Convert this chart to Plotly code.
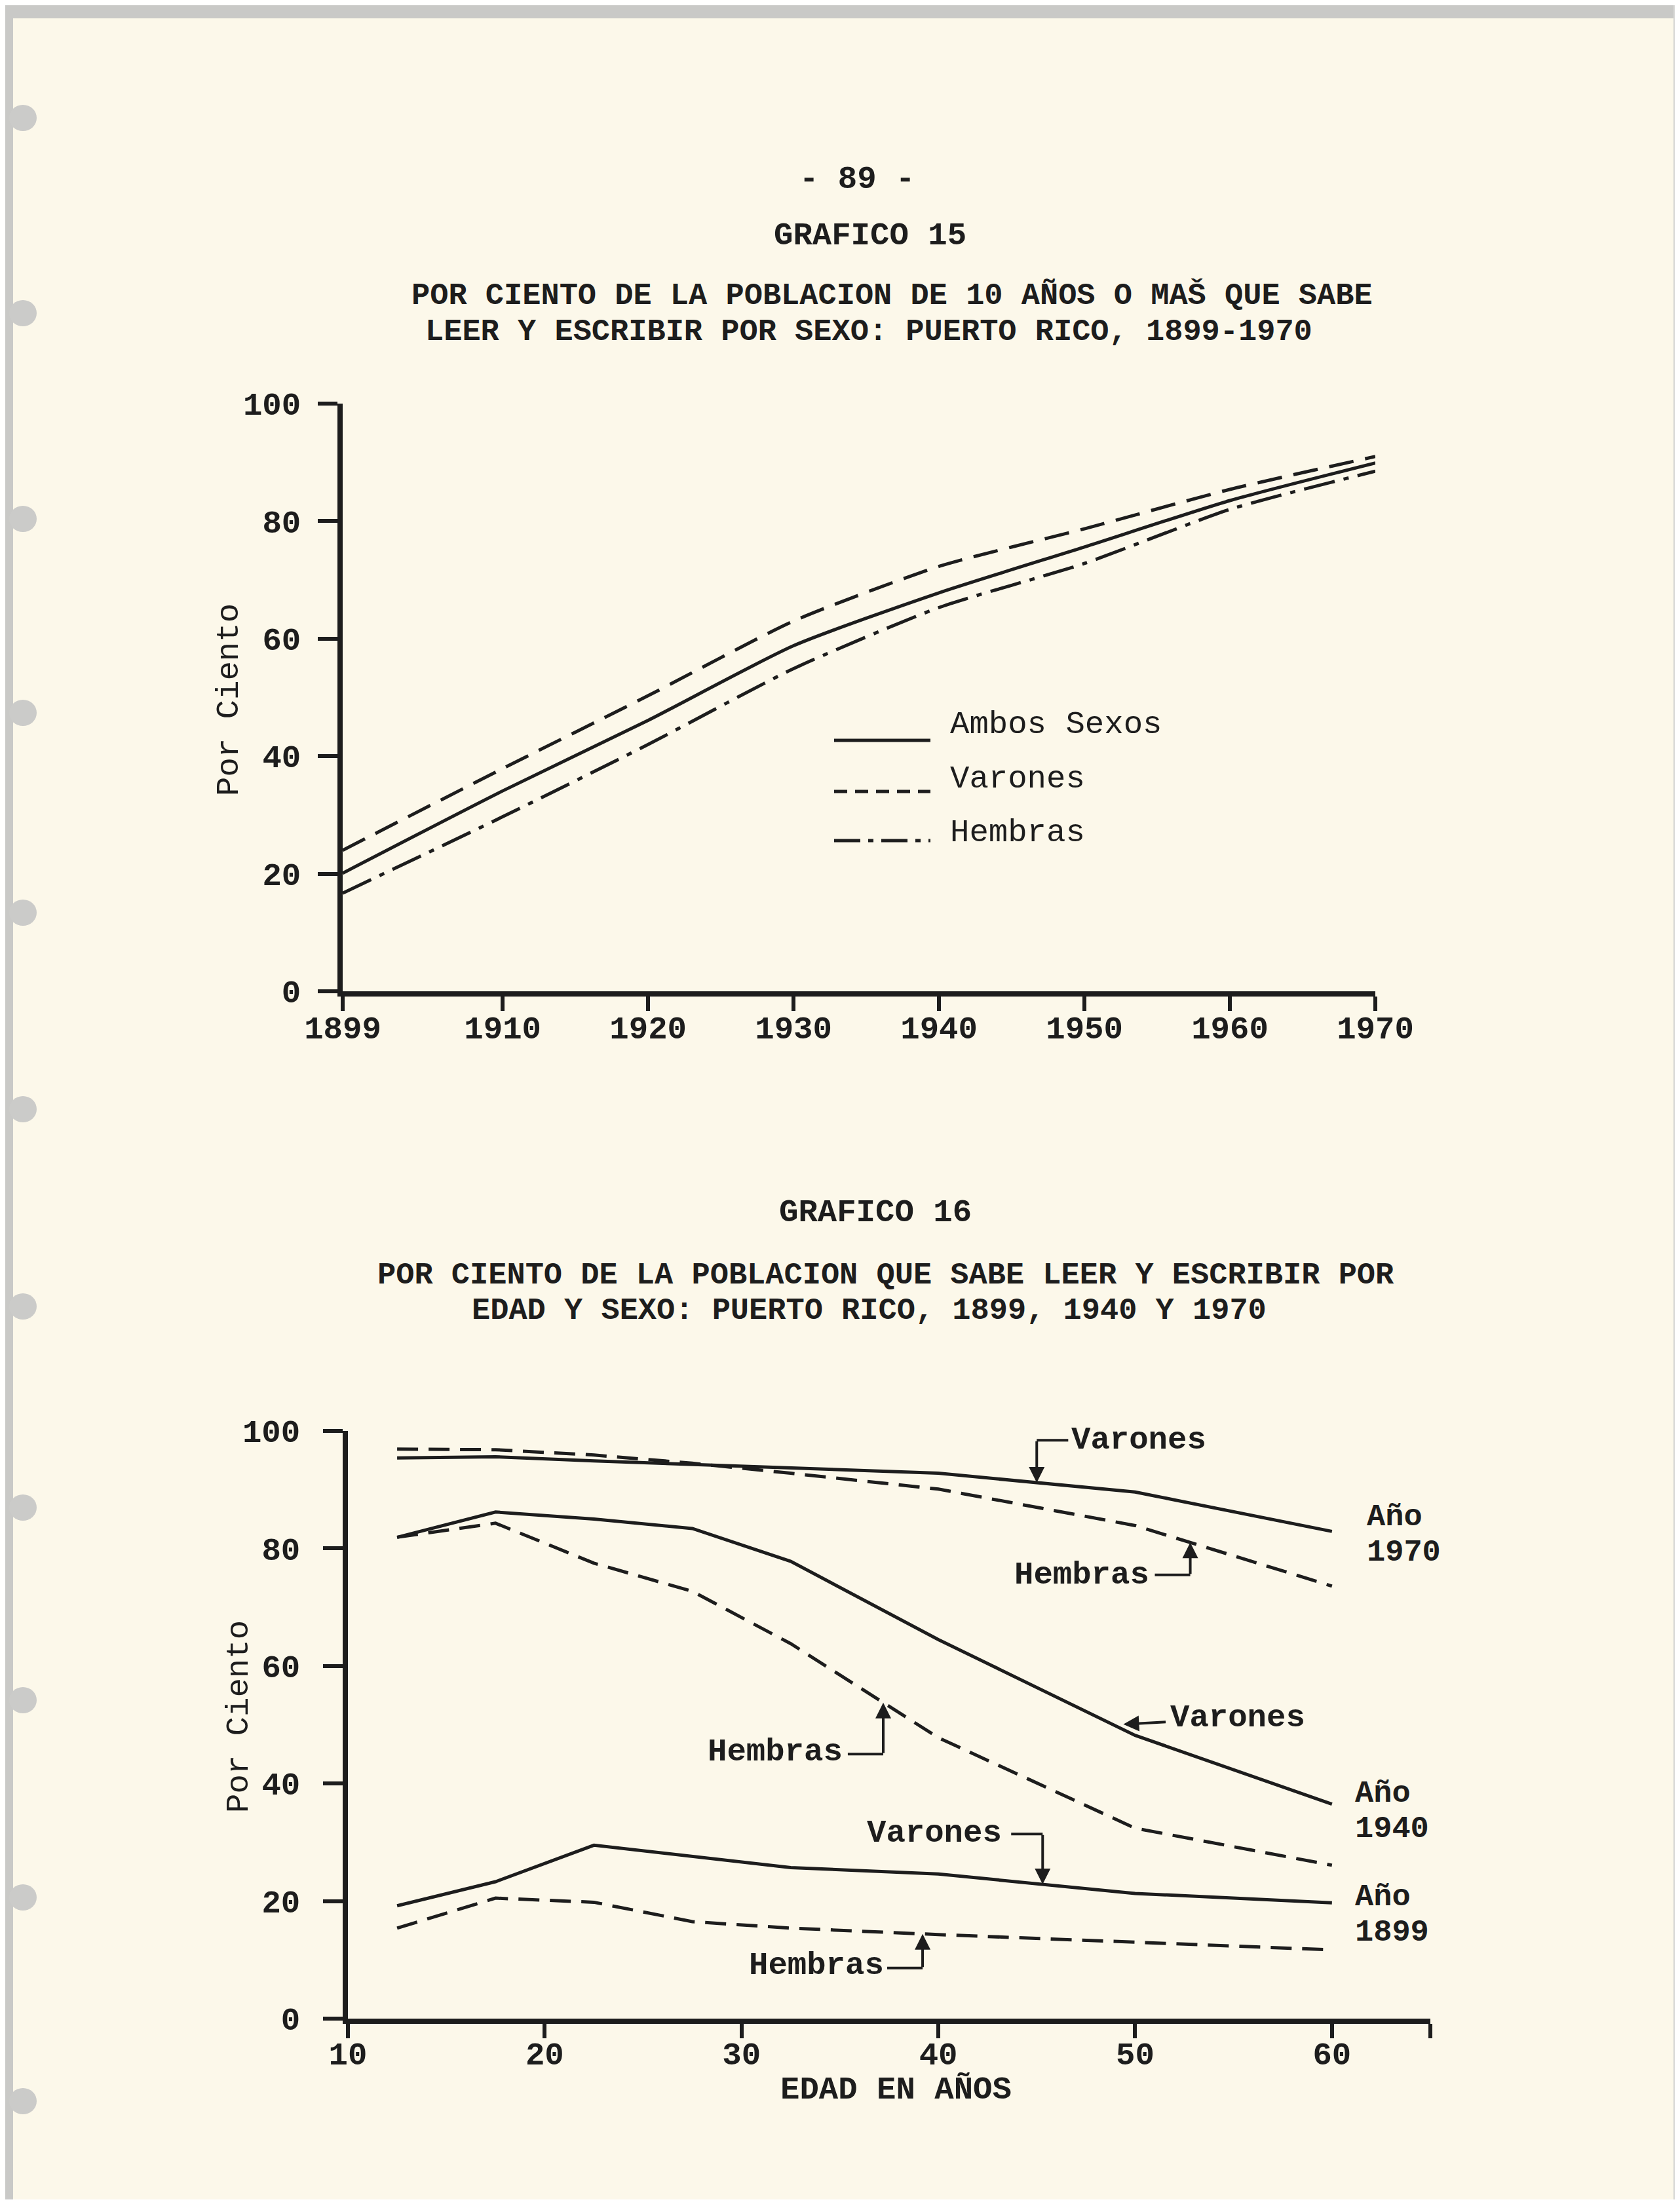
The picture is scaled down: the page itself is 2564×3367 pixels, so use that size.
import numpy as np
import plotly.graph_objects as go

# ---------------- DATA ----------------
# Grafico 15: literacy (% of population 10+ that can read and write), by sex
years = [1899, 1910, 1920, 1930, 1940, 1950, 1960, 1970]
ambos_sexos = [20.1, 34.1, 46.1, 58.8, 67.8, 75.6, 83.5, 89.9]
varones_15 = [24.0, 37.9, 50.3, 63.0, 72.3, 78.7, 85.4, 91.0]
hembras_15 = [16.7, 29.7, 42.0, 54.9, 65.3, 72.8, 82.0, 88.5]
year_ticks = [1899, 1910, 1920, 1930, 1940, 1950, 1960, 1970]

# Grafico 16: literacy by age and sex, 1899, 1940, 1970
edad = [12.5, 17.5, 22.5, 27.5, 32.5, 40, 50, 60]
varones_1970 = [95.4, 95.6, 94.9, 94.3, 93.7, 92.8, 89.6, 82.9]
hembras_1970 = [96.9, 96.8, 95.9, 94.5, 92.8, 90.1, 83.9, 73.6]
varones_1940 = [81.9, 86.2, 85.0, 83.4, 77.8, 64.5, 48.2, 36.5]
hembras_1940 = [81.9, 84.3, 77.5, 72.7, 63.8, 47.8, 32.4, 26.1]
varones_1899 = [19.2, 23.3, 29.5, 27.6, 25.7, 24.6, 21.3, 19.7]
hembras_1899 = [15.4, 20.5, 19.8, 16.5, 15.4, 14.3, 13.0, 11.7]
edad_ticks = [10, 20, 30, 40, 50, 60]
pct_ticks = [0, 20, 40, 60, 80, 100]

# ---------------- STYLE ----------------
W, H = 2564, 3367
INK = "#1d1d1d"
PAPER = "#fcf8ea"
FONT = "Liberation Mono"
FS = 49


def PX(x):
    return x / W


def PY(y):
    return 1 - y / H


fig = go.Figure()

# ---- Grafico 15 traces ----
fig.add_trace(go.Scatter(x=years, y=ambos_sexos, mode="lines", xaxis="x", yaxis="y",
                         line=dict(color=INK, width=5, shape="spline", smoothing=0.6)))
fig.add_trace(go.Scatter(x=years, y=varones_15, mode="lines", xaxis="x", yaxis="y",
                         line=dict(color=INK, width=5, dash="38px,18px", shape="spline", smoothing=0.6)))
fig.add_trace(go.Scatter(x=years, y=hembras_15, mode="lines", xaxis="x", yaxis="y",
                         line=dict(color=INK, width=5, dash="48px,14px,8px,14px", shape="spline", smoothing=0.6)))

# ---- Grafico 16 traces ----
for ys, dash in [(varones_1970, "solid"), (hembras_1970, "32px,16px"),
                 (varones_1940, "solid"), (hembras_1940, "32px,16px"),
                 (varones_1899, "solid"), (hembras_1899, "32px,16px")]:
    fig.add_trace(go.Scatter(x=edad, y=ys, mode="lines", xaxis="x2", yaxis="y2",
                             line=dict(color=INK, width=5, dash=dash)))

tickfont = dict(family=FONT, size=FS, color=INK, weight="bold")
axis_common = dict(showline=True, linewidth=8, linecolor=INK, ticks="outside",
                   tickwidth=6, tickcolor=INK, showgrid=False, zeroline=False,
                   tickfont=tickfont, fixedrange=True, automargin=False)

shapes = []
annotations = []

# ---- page decoration ----
shapes.append(dict(type="rect", xref="paper", yref="paper", x0=0, x1=1, y0=PY(20), y1=1,
                   fillcolor="#c9c9c7", line=dict(width=0), layer="below"))
shapes.append(dict(type="rect", xref="paper", yref="paper", x0=0, x1=PX(12), y0=0, y1=1,
                   fillcolor="#c9c9c7", line=dict(width=0), layer="below"))
shapes.append(dict(type="rect", xref="paper", yref="paper", x0=PX(2546), x1=1, y0=0, y1=1,
                   fillcolor="#d6d6d4", line=dict(width=0), layer="below"))
shapes.append(dict(type="rect", xref="paper", yref="paper", x0=0, x1=1, y0=0, y1=PY(3349),
                   fillcolor="#ffffff", line=dict(width=0), layer="below"))
for hy in [172, 470, 784, 1080, 1385, 1685, 1986, 2293, 2587, 2888, 3199]:
    shapes.append(dict(type="circle", xref="paper", yref="paper",
                       x0=PX(6), x1=PX(48), y0=PY(hy + 20), y1=PY(hy - 20),
                       fillcolor="#cbcbc9", line=dict(width=0), layer="below"))


def text(x, y, s, size=FS, bold=True, xanchor="center", **kw):
    annotations.append(dict(xref="paper", yref="paper", x=PX(x), y=PY(y), text=s,
                            showarrow=False, xanchor=xanchor, yanchor="middle",
                            font=dict(family=FONT, size=size, color=INK,
                                      weight="bold" if bold else "normal"), **kw))


# ---- titles ----
TS = 47
text(1300, 266, "- 89 -")
text(1320, 352, "GRAFICO 15")
text(1353, 444, "POR CIENTO DE LA POBLACION DE 10 AÑOS O MAŠ QUE SABE", size=TS)
text(1318, 499, "LEER Y ESCRIBIR POR SEXO: PUERTO RICO, 1899-1970", size=TS)
text(1328, 1843, "GRAFICO 16")
text(1344, 1938, "POR CIENTO DE LA POBLACION QUE SABE LEER Y ESCRIBIR POR", size=TS)
text(1318, 1993, "EDAD Y SEXO: PUERTO RICO, 1899, 1940 Y 1970", size=TS)

# axis titles
text(342, 1060, "Por Ciento", bold=False, textangle=-90)
text(357, 2612, "Por Ciento", bold=False, textangle=-90)
text(1359, 3182, "EDAD EN AÑOS")

# ---- Grafico 15 legend ----
leg = [("Ambos Sexos", "solid", 1122, 1098),
       ("Varones", "20px,12px", 1200, 1181),
       ("Hembras", "40px,12px,8px,12px", 1275, 1263)]
for label, dash, ly, ty in leg:
    shapes.append(dict(type="line", xref="paper", yref="paper", x0=PX(1265), x1=PX(1412),
                       y0=PY(ly), y1=PY(ly), line=dict(color=INK, width=5, dash=dash)))
    text(1440, ty, label, bold=False, xanchor="left")


# ---- Grafico 16 callouts ----
def callout(label, series, tip_age, bracket_y, corner_age, text_age, text_y, xanchor):
    tip_y = float(np.interp(tip_age, edad, series))
    annotations.append(dict(xref="x2", yref="y2", axref="x2", ayref="y2",
                            x=tip_age, y=tip_y, ax=tip_age, ay=bracket_y, text="",
                            showarrow=True, arrowhead=2, arrowsize=1.2, arrowwidth=4,
                            arrowcolor=INK, standoff=0, startstandoff=0))
    shapes.append(dict(type="line", xref="x2", yref="y2", x0=tip_age, x1=corner_age,
                       y0=bracket_y, y1=bracket_y, line=dict(color=INK, width=4)))
    annotations.append(dict(xref="x2", yref="y2", x=text_age, y=text_y, text=label,
                            showarrow=False, xanchor=xanchor, yanchor="middle",
                            font=dict(family=FONT, size=FS, color=INK, weight="bold")))


callout("Varones", varones_1970, 45.0, 98.4, 46.6, 46.7, 98.4, "left")
callout("Hembras", hembras_1970, 52.8, 75.5, 51.0, 50.8, 75.5, "right")
callout("Hembras", hembras_1940, 37.2, 45.0, 35.4, 35.2, 45.4, "right")
callout("Varones", varones_1899, 45.3, 31.4, 43.7, 43.3, 31.6, "right")
callout("Hembras", hembras_1899, 39.2, 8.6, 37.4, 37.3, 9.0, "right")

# horizontal arrow for 1940 Varones
tip_v40 = float(np.interp(49.4, edad, varones_1940))
annotations.append(dict(xref="x2", yref="y2", axref="x2", ayref="y2",
                        x=49.4, y=tip_v40 + 0.9, ax=51.6, ay=tip_v40 + 1.3, text="",
                        showarrow=True, arrowhead=2, arrowsize=1.2, arrowwidth=4,
                        arrowcolor=INK, standoff=0))
annotations.append(dict(xref="x2", yref="y2", x=51.7, y=tip_v40 + 2.0, text="Varones",
                        showarrow=False, xanchor="left", yanchor="middle",
                        font=dict(family=FONT, size=FS, color=INK, weight="bold")))

# year labels ("Año" over the year)
for yr, xa, y_top, y_bot in [("1970", 61.7, 85.3, 79.3), ("1940", 61.1, 38.3, 32.3),
                             ("1899", 61.1, 20.7, 14.7)]:
    for s, ya in [("Año", y_top), (yr, y_bot)]:
        annotations.append(dict(xref="x2", yref="y2", x=xa, y=ya, text=s, showarrow=False,
                                xanchor="left", yanchor="middle", align="left",
                                font=dict(family=FONT, size=47, color=INK, weight="bold")))

fig.update_layout(
    width=W, height=H,
    margin=dict(l=0, r=0, t=0, b=0, pad=0, autoexpand=False),
    paper_bgcolor=PAPER, plot_bgcolor="rgba(0,0,0,0)",
    showlegend=False,
    font=dict(family=FONT, size=FS, color=INK),
    xaxis=dict(domain=[PX(515), PX(2091)], range=[1899, 1970], tickvals=year_ticks,
               ticktext=[str(v) for v in year_ticks], ticklen=22, ticklabelstandoff=-17,
               anchor="y", **axis_common),
    yaxis=dict(domain=[PY(1505), PY(608)], range=[0, 100], tickvals=pct_ticks,
               ticktext=[str(v) for v in pct_ticks], ticklen=30, ticklabelstandoff=16,
               anchor="x", **axis_common),
    xaxis2=dict(domain=[PX(523), PX(2175)], range=[10, 65], tickvals=edad_ticks + [65],
                ticktext=[str(v) for v in edad_ticks] + [""], ticklen=22, ticklabelstandoff=-19,
                anchor="y2", **axis_common),
    yaxis2=dict(domain=[PY(3073), PY(2176)], range=[0, 100], tickvals=pct_ticks,
                ticktext=[str(v) for v in pct_ticks], ticklen=30, ticklabelstandoff=25,
                anchor="x2", **axis_common),
    shapes=shapes,
    annotations=annotations,
)

fig.write_html("out.html")
